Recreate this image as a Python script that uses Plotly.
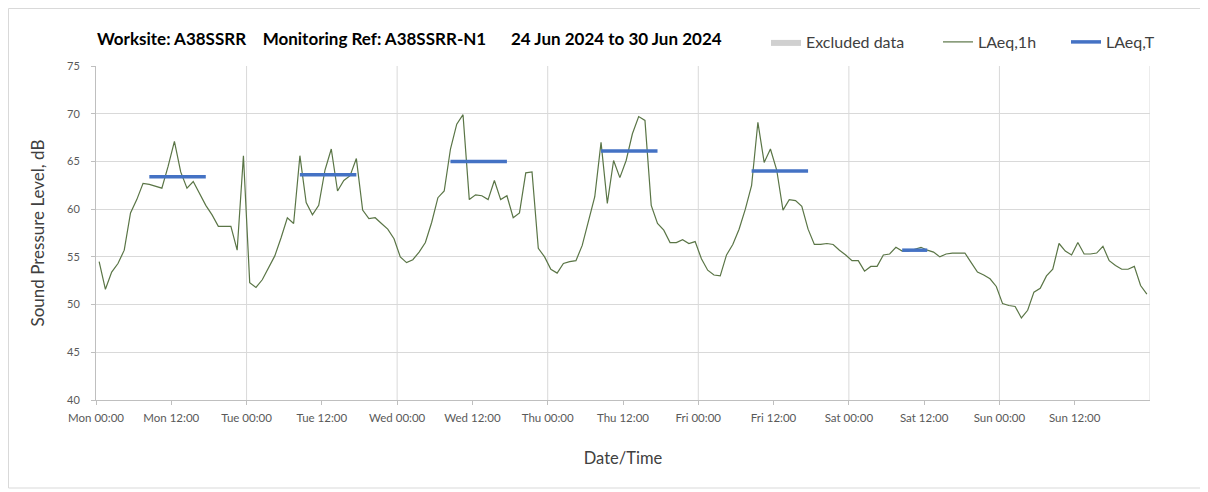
import plotly.graph_objects as go
from datetime import datetime, timedelta

# ---- data ----
start = datetime(2024, 6, 24)
laeq_1h = [
    # Mon
    54.5, 51.6, 53.4, 54.3, 55.7, 59.6, 61.0, 62.7, 62.6, 62.4, 62.2, 64.5,
    67.1, 63.9, 62.2, 62.9, 61.6, 60.4, 59.4, 58.2, 58.2, 58.2, 55.7, 65.6,
    # Tue
    52.3, 51.8, 52.6, 53.9, 55.1, 57.0, 59.1, 58.5, 65.6, 60.7, 59.4, 60.4,
    64.1, 66.3, 61.9, 63.0, 63.5, 65.3, 59.9, 59.0, 59.1, 58.5, 57.9, 56.9,
    # Wed
    55.0, 54.4, 54.7, 55.5, 56.5, 58.6, 61.2, 61.9, 66.3, 68.9, 69.9, 61.0,
    61.5, 61.4, 61.0, 63.0, 61.0, 61.4, 59.1, 59.6, 63.8, 63.9, 55.9, 55.0,
    # Thu
    53.7, 53.3, 54.3, 54.5, 54.6, 56.2, 58.6, 61.3, 67.0, 60.6, 65.1, 63.3,
    65.1, 67.9, 69.7, 69.3, 60.4, 58.5, 57.8, 56.5, 56.5, 56.8, 56.4, 56.6,
    # Fri
    54.8, 53.6, 53.1, 53.0, 55.2, 56.3, 57.9, 60.0, 62.5, 69.1, 64.9, 66.3,
    64.1, 59.9, 61.0, 60.9, 60.3, 57.9, 56.3, 56.3, 56.4, 56.3, 55.7, 55.2,
    # Sat
    54.6, 54.6, 53.5, 54.0, 54.0, 55.2, 55.3, 56.0, 55.6, 55.6, 55.8, 56.0,
    55.7, 55.5, 55.0, 55.3, 55.4, 55.4, 55.4, 54.4, 53.4, 53.1, 52.7, 51.9,
    # Sun
    50.1, 49.9, 49.8, 48.6, 49.4, 51.3, 51.7, 53.0, 53.7, 56.4, 55.6, 55.2,
    56.5, 55.3, 55.3, 55.4, 56.1, 54.6, 54.1, 53.7, 53.7, 54.0, 52.0, 51.1,
]
laeq_t_values = [63.4, 63.6, 65.0, 66.1, 64.0, 55.7]
laeq_t_start_idx = [8, 32, 56, 80, 104, 128]
laeq_t_end_idx = [17, 41, 65, 89, 113, 132]
day_names = ["Mon", "Tue", "Wed", "Thu", "Fri", "Sat", "Sun"]
tick_hours = ["00:00", "12:00"]
y_ticks = [40, 45, 50, 55, 60, 65, 70, 75]

times = [start + timedelta(minutes=30 + 60 * i) for i in range(len(laeq_1h))]

bx, by = [], []
for s, e, v in zip(laeq_t_start_idx, laeq_t_end_idx, laeq_t_values):
    bx += [times[s], times[e], None]
    by += [v, v, None]

tickvals, ticktext = [], []
for d, name in enumerate(day_names):
    for k, hh in enumerate(tick_hours):
        tickvals.append(start + timedelta(hours=24 * d + 12 * k))
        ticktext.append(f"{name} {hh}")

# figure geometry (page has an 8px body margin)
W, H = 1200, 484
L, T, PW, PH = 88, 58, 1054, 334
R, B = W - L - PW, H - T - PH


def px(xf):
    return (xf - L) / PW


def py(yf):
    return (T + PH - yf) / PH


FONT = "Lato, 'Open Sans', sans-serif"
LEGFONT = dict(family=FONT, size=16, color="#404040")

fig = go.Figure()
fig.add_trace(go.Scatter(
    x=[None], y=[None], mode="lines", fill="toself", name="Excluded data",
    line=dict(color="#d0d0d0", width=0), fillcolor="#d0d0d0", legend="legend"))
fig.add_trace(go.Scatter(
    x=times, y=laeq_1h, mode="lines", name="LAeq,1h",
    line=dict(color="#5a7546", width=1.2), legend="legend2"))
fig.add_trace(go.Scatter(
    x=bx, y=by, mode="lines", name="LAeq,T",
    line=dict(color="#4472C4", width=3.5), legend="legend3"))

end = start + timedelta(days=7)
for d in range(1, 8):
    fig.add_shape(type="line", xref="x", yref="paper",
                  x0=start + timedelta(days=d), x1=start + timedelta(days=d),
                  y0=0, y1=1, line=dict(color="#d9d9d9", width=1), layer="below")

# outer chart border
fig.add_shape(type="rect", xref="paper", yref="paper",
              x0=px(0.5), x1=px(1195), y0=py(480), y1=py(0.5),
              line=dict(color="#d9d9d9", width=1), layer="below")

fig.add_annotation(
    text="<b>Worksite: A38SSRR    Monitoring Ref: A38SSRR-N1      24 Jun 2024 to 30 Jun 2024</b>",
    xref="paper", yref="paper", x=px(87), y=py(31),
    xanchor="left", yanchor="middle", showarrow=False,
    font=dict(family=FONT, size=17, color="#000000"))

leg_common = dict(orientation="h", xanchor="left", yanchor="middle", y=py(34),
                  font=LEGFONT, bgcolor="rgba(0,0,0,0)", itemwidth=30)

fig.update_layout(
    width=W, height=H,
    margin=dict(l=L, r=R, t=T, b=B),
    paper_bgcolor="white", plot_bgcolor="white",
    font=dict(family=FONT, size=12, color="#404040"),
    showlegend=True,
    legend=dict(x=px(758), **leg_common),
    legend2=dict(x=px(930), **leg_common),
    legend3=dict(x=px(1058), **leg_common),
    xaxis=dict(
        range=[start, end], type="date",
        tickvals=tickvals, ticktext=ticktext,
        showgrid=False, showline=True, linecolor="#bfbfbf", linewidth=1,
        ticks="outside", ticklen=4, tickcolor="#bfbfbf", ticklabelstandoff=3,
        tickfont=dict(family=FONT, size=11.5, color="#595959"),
        title=dict(text="Date/Time", font=dict(family=FONT, size=16.5, color="#404040"),
                   standoff=29),
        zeroline=False),
    yaxis=dict(
        range=[40, 75], tickvals=y_ticks,
        showgrid=True, gridcolor="#d9d9d9", gridwidth=1,
        showline=True, linecolor="#bfbfbf", linewidth=1,
        ticks="outside", ticklen=4, tickcolor="#bfbfbf", ticklabelstandoff=9,
        tickfont=dict(family=FONT, size=11, color="#595959"),
        title=dict(text="Sound Pressure Level, dB",
                   font=dict(family=FONT, size=17, color="#404040"), standoff=18),
        zeroline=False),
)

fig.write_html("out.html")
